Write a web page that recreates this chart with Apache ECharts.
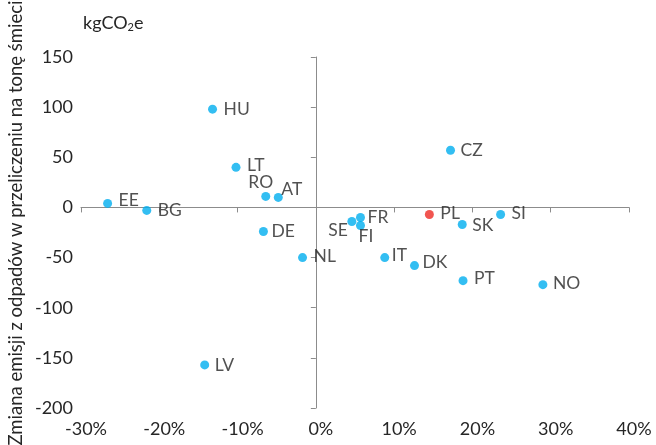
<!DOCTYPE html>
<html>
<head>
<meta charset="utf-8">
<script src="https://cdn.jsdelivr.net/npm/echarts@6/dist/echarts.min.js"></script>
<style>html,body{margin:0;padding:0;background:#fff}#c{width:656px;height:445px}</style>
</head>
<body>
<div id="c"></div>
<script>
// Data
var countries = ['EE','BG','HU','LT','RO','AT','DE','NL','LV','CZ','FR','SE','FI','PL','SK','SI','IT','DK','PT','NO'];
var xChange  = [-26.6,-21.6,-13.2,-10.2,-6.4,-4.8,-6.7,-1.7,-14.2,17.2,5.7,4.6,5.7,14.5,18.7,23.6,8.8,12.6,18.8,29.0];
var yEmission = [4,-3,98,40,11,10,-24,-50,-157,57,-10,-14,-18,-7,-17,-7,-50,-58,-73,-77];
var highlight = 'PL';
var xTicks = [-30,-20,-10,0,10,20,30,40];
var yTicks = [-200,-150,-100,-50,0,50,100,150];
var yTitle = 'Zmiana emisji z odpadów w przeliczeniu na tonę śmieci';

// Label placement (layout only)
var labelPlace = {
  EE:{o:[11,-3]}, BG:{o:[11,0]}, HU:{o:[11,0]}, LT:{o:[11,-2]},
  RO:{o:[-5,-14],a:'center'}, AT:{o:[3,-8]}, DE:{o:[8,0]}, NL:{o:[11,-1]},
  LV:{o:[10,0]}, CZ:{o:[10,0]}, FR:{o:[7,0]}, SE:{o:[-4,9],a:'right'},
  FI:{o:[-2,11]}, PL:{o:[11,-1]}, SK:{o:[10,1]}, SI:{o:[11,-1]},
  IT:{o:[7,-2]}, DK:{o:[8,-3]}, PT:{o:[11,-2]}, NO:{o:[10,-1]}
};

var BLUE = '#00AEEF', RED = '#EE2A24', AX = '#8c8c8c', TXT = '#262626';
var FONT = 'Lato';

var points = countries.map(function(c,i){
  var p = labelPlace[c] || {o:[11,0]};
  return {
    name: c,
    value: [xChange[i], yEmission[i]],
    itemStyle: {color: c === highlight ? RED : BLUE},
    label: {
      show: true, position: 'inside', formatter: c,
      align: p.a || 'left', verticalAlign: 'middle',
      offset: p.o, color: TXT, fontFamily: FONT, fontSize: 17.5
    }
  };
});

var chart = echarts.init(document.getElementById('c'), null, {renderer:'canvas'});
var xmin = xTicks[0], xmax = xTicks[xTicks.length-1], xint = xTicks[1]-xTicks[0];
var ymin = yTicks[0], ymax = yTicks[yTicks.length-1], yint = yTicks[1]-yTicks[0];
chart.setOption({
  animation: false,
  grid: {left: 81, right: 27, top: 57, bottom: 37, containLabel: false},
  xAxis: [{
    type: 'value', min: xmin, max: xmax, interval: xint,
    axisLine: {show: true, onZero: true, lineStyle: {color: AX, width: 1}},
    axisTick: {show: true, length: 5, lineStyle: {color: AX}},
    axisLabel: {show: false}, splitLine: {show: false}
  }, {
    type: 'value', min: xmin, max: xmax, interval: xint, position: 'bottom',
    axisLine: {show: false, onZero: false}, axisTick: {show: false}, splitLine: {show: false},
    axisLabel: {show: true, margin: 12, formatter: '{value}%', color: TXT, fontFamily: FONT, fontSize: 18, padding: [0,0,0,10]}
  }],
  yAxis: [{
    type: 'value', min: ymin, max: ymax, interval: yint,
    axisLine: {show: true, onZero: true, lineStyle: {color: AX, width: 1}},
    axisTick: {show: true, length: 5, lineStyle: {color: AX}},
    axisLabel: {show: false}, splitLine: {show: false}
  }, {
    type: 'value', min: ymin, max: ymax, interval: yint, position: 'left',
    axisLine: {show: false, onZero: false}, axisTick: {show: false}, splitLine: {show: false},
    axisLabel: {show: true, margin: 8, color: TXT, fontFamily: FONT, fontSize: 18}
  }],
  graphic: [{
    type: 'text', x: 16, y: 223, rotation: Math.PI/2,
    style: {text: yTitle, fill: TXT, font: '18.5px Lato', textAlign: 'center', textVerticalAlign: 'middle'}
  }, {
    type: 'text', x: 83, y: 23,
    style: {
      text: 'kgCO{s|2}e', textVerticalAlign: 'middle', textAlign: 'left',
      fill: TXT, font: '18px Lato',
      rich: {s: {fontSize: 11, fontFamily: FONT, fill: TXT, padding: [9,0,0,0]}}
    }
  }],
  series: [{
    type: 'scatter', xAxisIndex: 0, yAxisIndex: 0,
    symbol: 'circle', symbolSize: 9,
    data: points
  }]
});
</script>
</body>
</html>
